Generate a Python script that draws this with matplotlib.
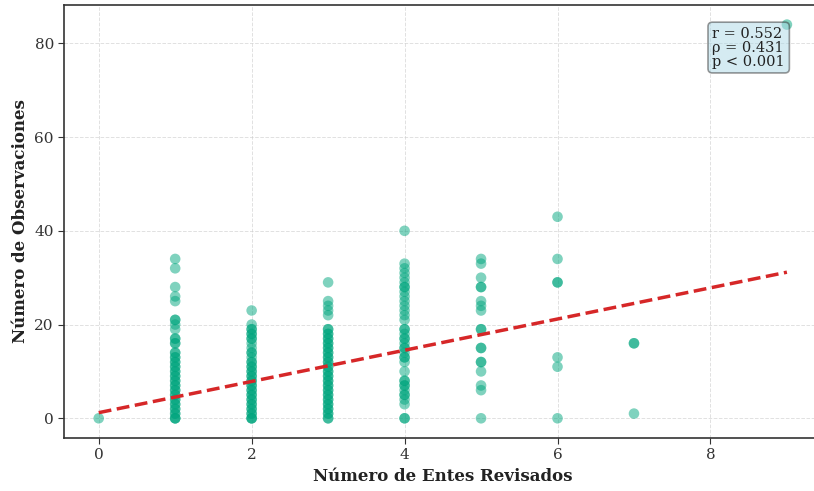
import numpy as np
import matplotlib.pyplot as plt

plt.rcParams['font.family'] = ['DejaVu Serif']

# Observaciones por número de entes revisados
obs_0 = [0]
obs_1 = [0, 0, 0, 1, 1, 2, 2, 3, 3, 4, 4, 5, 5, 6, 6, 7, 7, 8, 8, 9, 9, 10, 10, 11, 11,
         12, 12, 13, 13, 14, 14, 16, 16, 17, 17, 19, 20, 21, 21, 25, 26, 28, 32, 34]
obs_2 = [0, 0, 0, 1, 1, 2, 2, 3, 3, 4, 4, 5, 5, 6, 6, 7, 7, 8, 8, 9, 9, 10, 10, 11, 11,
         12, 12, 13, 14, 14, 15, 16, 17, 17, 18, 18, 19, 19, 20, 23]
obs_3 = [0, 0, 1, 1, 2, 2, 3, 3, 4, 4, 5, 5, 6, 6, 7, 7, 8, 8, 9, 9, 10, 10, 11, 11, 12,
         12, 13, 13, 14, 14, 15, 15, 16, 16, 17, 17, 18, 18, 19, 19, 22, 23, 24, 25, 29]
obs_4 = [0, 0, 3, 4, 5, 5, 6, 7, 7, 8, 8, 10, 12, 13, 13, 14, 15, 15, 16, 17, 17, 18, 19,
         19, 21, 22, 23, 24, 25, 26, 27, 28, 28, 29, 30, 31, 32, 33, 40]
obs_5 = [0, 6, 7, 10, 12, 12, 15, 15, 19, 19, 23, 24, 25, 28, 28, 30, 33, 34]
obs_6 = [0, 11, 13, 29, 29, 34, 43]
obs_7 = [1, 16, 16]
obs_9 = [84]

groups = {0: obs_0, 1: obs_1, 2: obs_2, 3: obs_3, 4: obs_4,
          5: obs_5, 6: obs_6, 7: obs_7, 9: obs_9}
entes = np.concatenate([[k] * len(v) for k, v in groups.items()])
observaciones = np.concatenate([v for v in groups.values()])

# Ajuste lineal mostrado en la figura
pendiente = 3.33
intercepto = 1.2
stats_text = 'r = 0.552\nρ = 0.431\np < 0.001'

fig = plt.figure(figsize=(8.14, 4.91), dpi=100)
ax = fig.add_axes([0.079, 0.108, 0.93, 0.882])

ax.scatter(entes, observaciones, s=58, color='#00a67e', alpha=0.5,
           edgecolors='none', zorder=3)

xl = np.array([entes.min(), entes.max()])
ax.plot(xl, intercepto + pendiente * xl, '--', color='#d62728', lw=2.5, zorder=4)

ax.set_xlim(-0.45, 9.45)
ax.set_ylim(-4.2, 88.2)
ax.set_xticks([0, 2, 4, 6, 8])
ax.set_yticks([0, 20, 40, 60, 80])
ax.grid(True, ls='--', color='#cccccc', alpha=0.6, lw=0.7)
ax.set_axisbelow(True)
ax.tick_params(labelsize=11, colors='#333333', length=4)
for sp in ax.spines.values():
    sp.set_color('#333333')
    sp.set_linewidth(1.2)

ax.set_xlabel('Número de Entes Revisados', fontsize=12, fontweight='bold', color='#222222')
ax.set_ylabel('Número de Observaciones', fontsize=12, fontweight='bold', color='#222222')

ax.text(0.952, 0.95, stats_text, transform=ax.transAxes, ha='right', va='top',
        multialignment='left', fontsize=10.5, color='#222222', linespacing=1.0,
        bbox=dict(boxstyle='round,pad=0.3', facecolor='#add8e6', alpha=0.5,
                  edgecolor='#333333', lw=1.2), zorder=5)

fig.savefig('out.png', dpi=100)
